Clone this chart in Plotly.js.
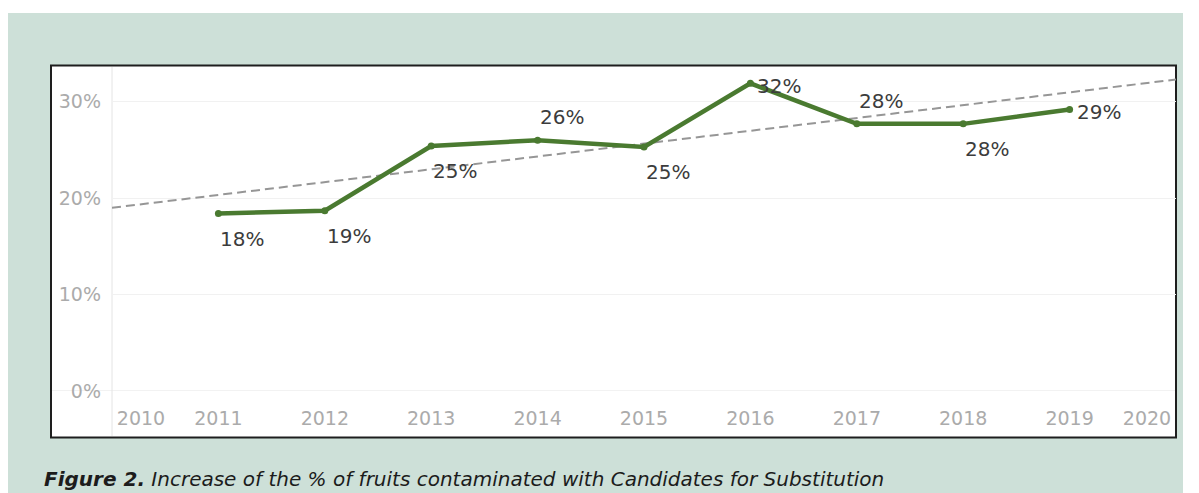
<!DOCTYPE html>
<html>
<head>
<meta charset="utf-8">
<script src="https://cdn.plot.ly/plotly-3.0.1.min.js"></script>
<style>html,body{margin:0;padding:0;background:#fff;}#chart{width:1199px;height:493px;}</style>
</head>
<body>
<div id="chart"></div>
<script>
// ---- data ----
const years = [2011, 2012, 2013, 2014, 2015, 2016, 2017, 2018, 2019];
const shares = [18.4, 18.7, 25.4, 26.0, 25.3, 31.9, 27.7, 27.7, 29.2];
const shareLabels = ['18%', '19%', '25%', '26%', '25%', '32%', '28%', '28%', '29%'];
const labelPlacement = ['below', 'below', 'below', 'above', 'below', 'right', 'above', 'below', 'right'];
const trendYears = [2010, 2020];
const trendShares = [19.0, 32.3];
const xTickYears = [2010, 2011, 2012, 2013, 2014, 2015, 2016, 2017, 2018, 2019, 2020];
const xTickLabels = ['2010', '2011', '2012', '2013', '2014', '2015', '2016', '2017', '2018', '2019', '2020'];
const yTickValues = [0, 10, 20, 30];
const yTickLabels = ['0%', '10%', '20%', '30%'];
const captionBold = 'Figure 2.';
const captionText = 'Increase of the % of fruits contaminated with Candidates for Substitution';

// ---- layout constants ----
const W = 1199, H = 493;
const M = {l: 112, r: 23, t: 66, b: 102};
const plotW = W - M.l - M.r, plotH = H - M.t - M.b;
const xRange = [2010, 2020];
const yRange = [0, 33.7];
const px2paperX = px => (px - M.l) / plotW;
const px2paperY = py => (H - M.b - py) / plotH;
const pxPerYear = plotW / (xRange[1] - xRange[0]);

// Tableau-like edge clamping for first/last tick labels
const edgeInset = 29 / pxPerYear;
const tickPositions = xTickYears.map((y, i) =>
  i === 0 ? y + edgeInset : (i === xTickYears.length - 1 ? y - edgeInset : y));

const green = '#4a7a30';
const tickFont = {family: 'DejaVu Sans', size: 19, color: '#ababab'};

const traces = [
  {
    x: trendYears, y: trendShares, type: 'scatter', mode: 'lines',
    line: {color: '#969696', width: 2, dash: '9px,5px'},
    hoverinfo: 'skip', showlegend: false
  },
  {
    x: years, y: shares, type: 'scatter', mode: 'lines+markers',
    line: {color: green, width: 4.5},
    marker: {color: green, size: 7},
    showlegend: false
  }
];

const placementShift = {
  below: {xshift: 0, yshift: -25},
  above: {xshift: 0, yshift: 23},
  right: {xshift: 5, yshift: -3}
};

const annotations = years.map((yr, i) => Object.assign({
  x: yr, y: shares[i], xref: 'x', yref: 'y',
  text: shareLabels[i], showarrow: false,
  xanchor: 'left', yanchor: 'middle',
  font: {family: 'DejaVu Sans', size: 20, color: '#3c3c3c'}
}, placementShift[labelPlacement[i]]));

annotations.push({
  xref: 'paper', yref: 'paper', x: px2paperX(42), y: px2paperY(479),
  xanchor: 'left', yanchor: 'middle', showarrow: false,
  text: '<b><i>' + captionBold + '</i></b><i> ' + captionText + '</i>',
  font: {family: 'DejaVu Sans', size: 20, color: '#1c1c1c'}
});

const shapes = [
  // light green panel
  {type: 'rect', xref: 'paper', yref: 'paper', layer: 'below',
   x0: px2paperX(8), x1: px2paperX(1183), y0: px2paperY(520), y1: px2paperY(13),
   fillcolor: '#cde0d8', line: {width: 0}},
  // white chart box with dark border
  {type: 'rect', xref: 'paper', yref: 'paper', layer: 'below',
   x0: px2paperX(51), x1: px2paperX(1176), y0: px2paperY(437.5), y1: px2paperY(65.5),
   fillcolor: '#ffffff', line: {color: '#1e1e1e', width: 2}},
  // pane separators
  {type: 'line', xref: 'paper', yref: 'paper', layer: 'below',
   x0: 0, x1: 0, y0: px2paperY(436), y1: px2paperY(67),
   line: {color: '#e4e4e4', width: 1}},
  {type: 'line', xref: 'paper', yref: 'y', layer: 'below',
   x0: px2paperX(52), x1: px2paperX(1175), y0: 0, y1: 0,
   line: {color: '#e4e4e4', width: 1}}
];

const layout = {
  width: W, height: H,
  margin: M,
  paper_bgcolor: '#ffffff',
  plot_bgcolor: 'rgba(0,0,0,0)',
  showlegend: false,
  xaxis: {
    range: xRange, tickmode: 'array', tickvals: tickPositions, ticktext: xTickLabels,
    showgrid: false, zeroline: false, showline: false, ticks: '',
    tickfont: tickFont, ticklabelstandoff: 14, fixedrange: true
  },
  yaxis: {
    range: yRange, tickmode: 'array', tickvals: yTickValues, ticktext: yTickLabels,
    showgrid: true, gridcolor: '#f1f1f1', gridwidth: 1, zeroline: false, showline: false,
    ticks: '', tickfont: tickFont, ticklabelstandoff: 10, fixedrange: true
  },
  shapes: shapes,
  annotations: annotations
};

Plotly.newPlot('chart', traces, layout, {displayModeBar: false, staticPlot: true});
</script>
</body>
</html>
